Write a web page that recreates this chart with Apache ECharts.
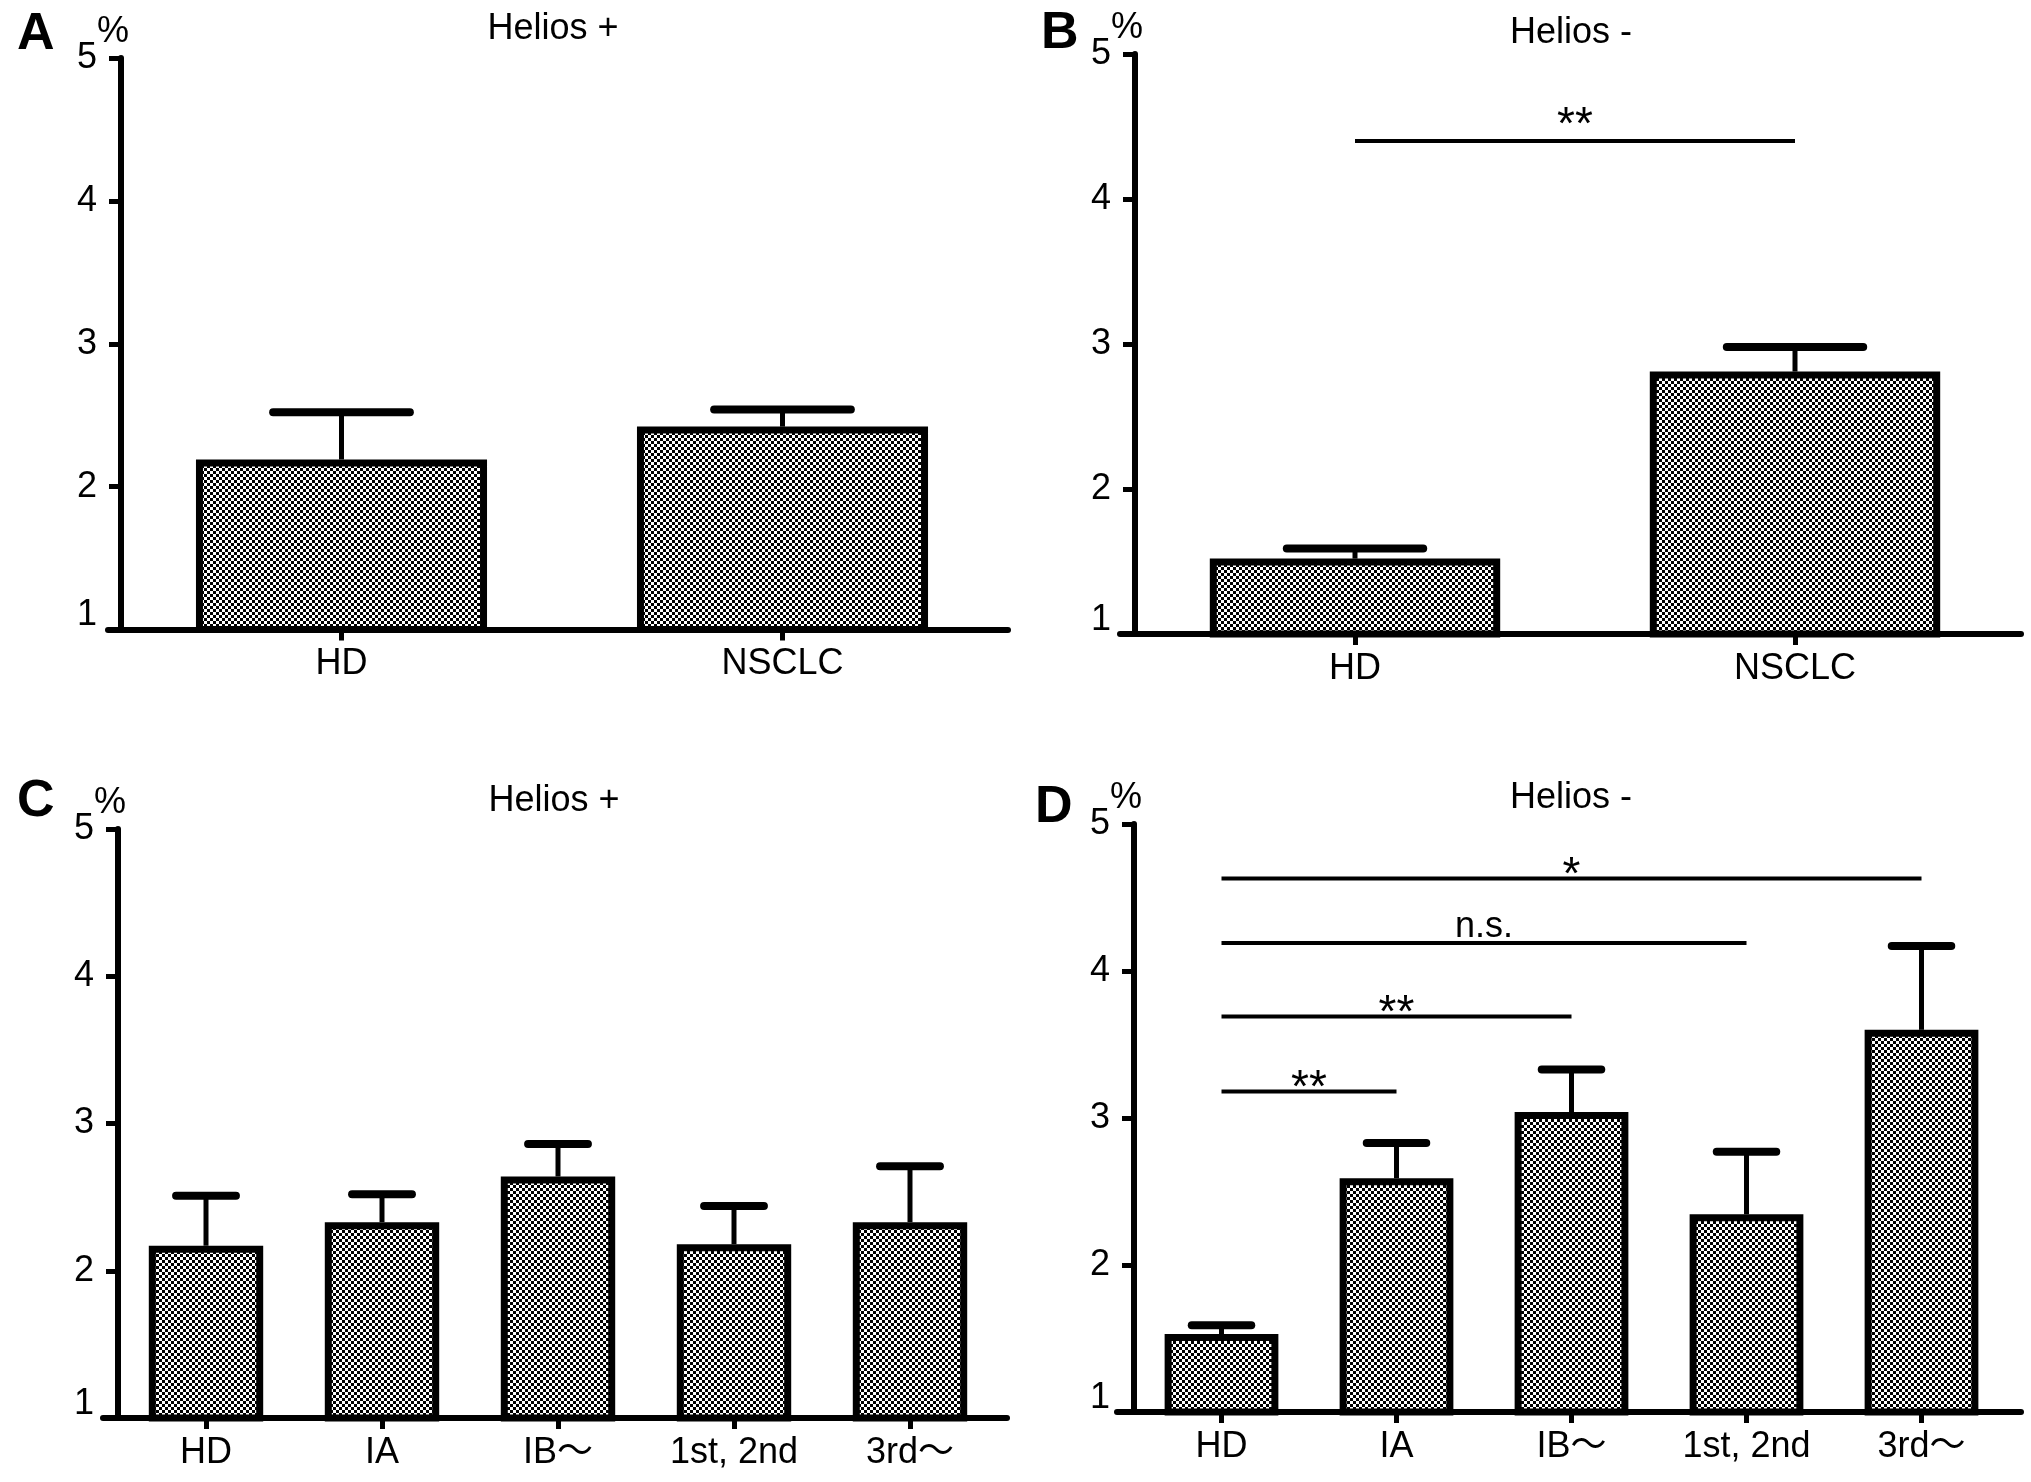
<!DOCTYPE html>
<html>
<head>
<meta charset="utf-8">
<script src="https://cdn.jsdelivr.net/npm/echarts@6/dist/echarts.min.js"></script>
<style>
html,body{margin:0;padding:0;background:#fff;}
#chart{width:2031px;height:1482px;}
</style>
</head>
<body>
<div id="chart"></div>
<script>
// ---------- data ----------
const catsAB = ['HD', 'NSCLC'];
const catsCD = ['HD', 'IA', 'IB\u301C', '1st, 2nd', '3rd\u301C'];
const yTicks = [1, 2, 3, 4, 5];

const meanA = [2.19, 2.42];
const upperA = [2.52, 2.54];
const meanB = [1.52, 2.81];
const upperB = [1.59, 2.98];
const meanC = [2.17, 2.33, 2.64, 2.18, 2.33];
const upperC = [2.51, 2.52, 2.86, 2.44, 2.71];
const meanD = [1.53, 2.59, 3.04, 2.345, 3.60];
const upperD = [1.59, 2.83, 3.33, 2.77, 4.17];

const sigB_from = [0];
const sigB_to = [1];
const sigB_y = [4.40];
const sigB_text = ['**'];
const sigD_from = [0, 0, 0, 0];
const sigD_to = [1, 2, 3, 4];
const sigD_y = [3.18, 3.69, 4.19, 4.63];
const sigD_text = ['**', '**', 'n.s.', '*'];

const panelTitles = ['Helios +', 'Helios -', 'Helios +', 'Helios -'];
const panelLetters = ['A', 'B', 'C', 'D'];
// ---------- style ----------
const FONT = '"Liberation Sans", Arial, "Noto Sans CJK JP", sans-serif';
const FS = 36;

const pc = document.createElement('canvas');
pc.width = 6; pc.height = 6;
const ctx = pc.getContext('2d');
ctx.fillStyle = '#fff'; ctx.fillRect(0, 0, 6, 6);
ctx.fillStyle = '#000'; ctx.fillRect(0, 0, 3, 3); ctx.fillRect(3, 3, 3, 3);
const checker = { image: pc, repeat: 'repeat' };

// panel layout (px)
const panels = [
  { grid: { left: 121, right: 1028, top: 58, bottom: 852.5 }, line: { left: 108, right: 1023 }, cats: catsAB, mean: meanA, upper: upperA, bw: '66%', cap: 0.31, title: [548, 6], letter: [12, 4] },
  { grid: { left: 1135, right: 16, top: 54, bottom: 848 }, line: { left: 1120, right: 10 }, cats: catsAB, mean: meanB, upper: upperB, bw: '66%', cap: 0.31, title: [1566, 10], letter: [1036, 3] },
  { grid: { left: 118, right: 1033, top: 829, bottom: 64 }, line: { left: 103, right: 1024 }, cats: catsCD, mean: meanC, upper: upperC, bw: '65%', cap: 0.34, title: [549, 778], letter: [12, 771] },
  { grid: { left: 1134, right: 22, top: 824, bottom: 70 }, line: { left: 1117, right: 10 }, cats: catsCD, mean: meanD, upper: upperD, bw: '65%', cap: 0.34, title: [1566, 775], letter: [1030, 777] }
];

const grids = [], xAxes = [], yAxes = [], series = [], titles = [];

panels.forEach((p, k) => {
  grids.push(p.grid);
  xAxes.push({
    type: 'category', gridIndex: k, data: p.cats,
    axisLine: { show: true, onZero: false, lineStyle: { color: '#000', width: 6 } },
    axisTick: { show: true, alignWithLabel: true, length: 11, lineStyle: { color: '#000', width: 5 } },
    axisLabel: { margin: 17, fontSize: FS, color: '#000', fontFamily: FONT }
  });
  yAxes.push({
    type: 'value', gridIndex: k, min: yTicks[0], max: yTicks[yTicks.length - 1], interval: 1,
    splitLine: { show: false },
    axisLine: { show: true, lineStyle: { color: '#000', width: 6 } },
    axisTick: { show: true, length: 12, lineStyle: { color: '#000', width: 5 } },
    axisLabel: {
      margin: 24, fontSize: FS, color: '#000', fontFamily: FONT,
      formatter: v => v === yTicks[0] ? '{lo|' + v + '}' : String(v),
      rich: { lo: { fontSize: FS, fontFamily: FONT, color: '#000', padding: [0, 0, 28, 0] } }
    },
    name: '%', nameLocation: 'end', nameGap: 8, nameMoveOverlap: false,
    nameTextStyle: { fontSize: 36, color: '#000', fontFamily: FONT, align: 'center', padding: [0, 16, 0, 0] }
  });
  series.push({
    type: 'bar', xAxisIndex: k, yAxisIndex: k, data: p.mean, barWidth: p.bw, z: 2,
    itemStyle: { color: checker, borderColor: '#000', borderWidth: 7 },
    emphasis: { disabled: true }, silent: true
  });
  const capRatio = p.cap;
  series.push({
    type: 'custom', xAxisIndex: k, yAxisIndex: k, z: 3, silent: true,
    data: p.mean.map((m, i) => [i, m, p.upper[i]]),
    renderItem: (params, api) => {
      const i = api.value(0);
      const p0 = api.coord([i, api.value(1)]);
      const p1 = api.coord([i, api.value(2)]);
      const w = api.size([1, 0])[0] * capRatio;
      return { type: 'group', children: [
        { type: 'line', shape: { x1: p0[0], y1: p0[1], x2: p1[0], y2: p1[1] }, style: { stroke: '#000', lineWidth: 5 } },
        { type: 'line', shape: { x1: p1[0] - w / 2, y1: p1[1], x2: p1[0] + w / 2, y2: p1[1] }, style: { stroke: '#000', lineWidth: 8, lineCap: 'round' } }
      ] };
    }
  });
  titles.push({ text: panelTitles[k], left: p.title[0], top: p.title[1], textAlign: 'center',
    textStyle: { fontSize: FS, fontWeight: 'normal', color: '#000', fontFamily: FONT } });
  titles.push({ text: panelLetters[k], left: p.letter[0], top: p.letter[1],
    textStyle: { fontSize: 52, fontWeight: 'bold', color: '#000', fontFamily: '"Liberation Sans", Arial, sans-serif' } });
});

// helper grids carrying the slightly longer x-axis baselines
panels.forEach((p, k) => {
  const gi = grids.length;
  grids.push({ left: p.line.left, right: p.line.right, top: p.grid.top, bottom: p.grid.bottom });
  xAxes.push({ type: 'value', gridIndex: gi, min: 0, max: 1, z: 10,
    axisLine: { show: true, onZero: false, lineStyle: { color: '#000', width: 6 } },
    axisTick: { show: false }, axisLabel: { show: false }, splitLine: { show: false } });
  yAxes.push({ type: 'value', gridIndex: gi, min: 0, max: 1, show: false });
});

function sigSeries(k, from, to, ys, texts, gap) {
  return {
    type: 'custom', xAxisIndex: k, yAxisIndex: k, z: 4, silent: true, clip: false,
    data: from.map((f, i) => [f, ys[i], to[i]]),
    renderItem: (params, api) => {
      const a = api.coord([api.value(0), api.value(1)]);
      const b = api.coord([api.value(2), api.value(1)]);
      const t = texts[params.dataIndex];
      const star = /^\*+$/.test(t);
      const fs = star ? 46 : FS;
      const cy = a[1] - gap + (star ? 0.24 * fs : -3);
      return { type: 'group', children: [
        { type: 'line', shape: { x1: a[0], y1: a[1], x2: b[0], y2: b[1] }, style: { stroke: '#000', lineWidth: 4 } },
        { type: 'text', x: (a[0] + b[0]) / 2, y: cy,
          style: { text: t, fontSize: fs, fontFamily: FONT, fill: '#000', align: 'center', verticalAlign: 'middle' } }
      ] };
    }
  };
}
series.push(sigSeries(1, sigB_from, sigB_to, sigB_y, sigB_text, 26));
series.push(sigSeries(3, sigD_from, sigD_to, sigD_y, sigD_text, 13));

const chart = echarts.init(document.getElementById('chart'), null, { renderer: 'canvas' });
chart.setOption({
  animation: false,
  backgroundColor: '#fff',
  title: titles,
  grid: grids,
  xAxis: xAxes,
  yAxis: yAxes,
  series: series
});
</script>
</body>
</html>
